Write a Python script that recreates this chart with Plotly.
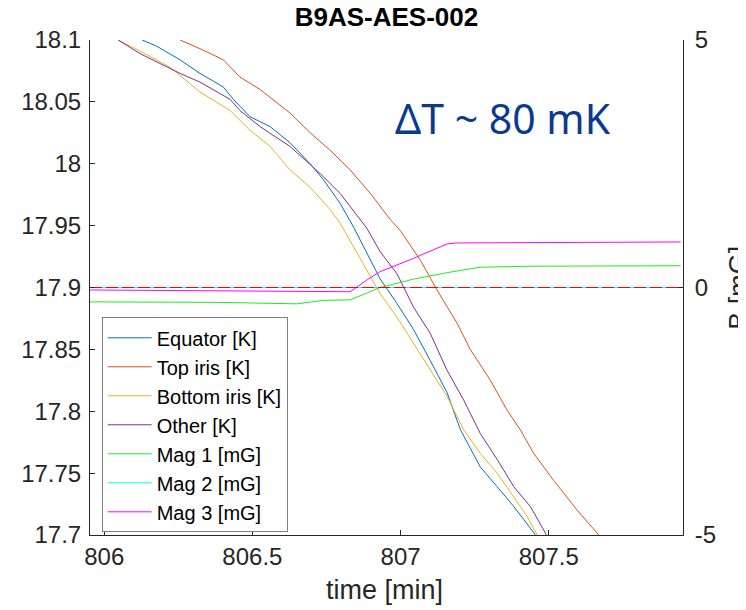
import plotly.graph_objects as go

# ---------------- data ----------------
eq_t = [806.128, 806.177, 806.256, 806.323, 806.402, 806.436, 806.492, 806.560, 806.627, 806.695,
        806.740, 806.796, 806.841, 806.931, 806.988, 807.044, 807.100, 807.157, 807.202, 807.269,
        807.326, 807.382, 807.427, 807.455]
eq_T = [18.100, 18.095, 18.084, 18.073, 18.062, 18.052, 18.038, 18.030, 18.017, 18.000,
        17.987, 17.968, 17.949, 17.907, 17.887, 17.866, 17.841, 17.815, 17.785, 17.755,
        17.739, 17.723, 17.709, 17.700]

top_t = [806.256, 806.323, 806.402, 806.458, 806.526, 806.627, 806.695, 806.762, 806.830, 806.898,
         806.965, 806.999, 807.067, 807.123, 807.191, 807.235, 807.303, 807.359, 807.404, 807.449,
         807.517, 807.596, 807.669]
top_T = [18.100, 18.093, 18.084, 18.070, 18.060, 18.041, 18.025, 18.011, 17.995, 17.976,
         17.955, 17.946, 17.922, 17.898, 17.871, 17.850, 17.825, 17.801, 17.785, 17.766,
         17.744, 17.720, 17.700]

bot_t = [806.047, 806.121, 806.222, 806.323, 806.425, 806.492, 806.560, 806.627, 806.695, 806.762,
         806.796, 806.931, 806.988, 807.044, 807.100, 807.157, 807.213, 807.269, 807.326, 807.382,
         807.427, 807.461]
bot_T = [18.100, 18.091, 18.078, 18.058, 18.043, 18.027, 18.014, 17.995, 17.981, 17.963,
         17.952, 17.895, 17.876, 17.855, 17.833, 17.812, 17.785, 17.766, 17.750, 17.731,
         17.715, 17.700]

oth_t = [806.047, 806.121, 806.188, 806.256, 806.323, 806.425, 806.458, 806.526, 806.627, 806.729,
         806.796, 806.886, 806.931, 806.988, 807.044, 807.100, 807.157, 807.213, 807.269, 807.326,
         807.382, 807.438, 807.483, 807.492]
oth_T = [18.100, 18.089, 18.081, 18.073, 18.066, 18.052, 18.043, 18.030, 18.014, 17.992,
         17.976, 17.948, 17.929, 17.911, 17.884, 17.863, 17.833, 17.809, 17.782, 17.761,
         17.739, 17.723, 17.704, 17.700]

mag1_t = [805.952, 806.380, 806.650, 806.740, 806.830, 806.909, 806.931, 806.965, 807.044, 807.157,
          807.269, 807.438, 807.945]
mag1_B = [-0.29, -0.30, -0.33, -0.26, -0.25, -0.05, 0.00, 0.05, 0.17, 0.30,
          0.41, 0.43, 0.44]

mag2_t = [805.952, 807.953]
mag2_B = [0.0, 0.0]

mag3_t = [805.952, 806.515, 806.740, 806.830, 806.886, 806.931, 807.044, 807.157, 807.191, 807.495,
          807.945]
mag3_B = [-0.05, -0.065, -0.085, -0.085, 0.15, 0.32, 0.59, 0.88, 0.90, 0.91,
          0.92]

zero_t = [805.952, 807.953]
zero_B = [0.0, 0.0]

x_ticks = [806, 806.5, 807, 807.5]
x_ticklabels = ["806", "806.5", "807", "807.5"]
y_ticks = [17.7, 17.75, 17.8, 17.85, 17.9, 17.95, 18.0, 18.05, 18.1]
y_ticklabels = ["17.7", "17.75", "17.8", "17.85", "17.9", "17.95", "18", "18.05", "18.1"]
b_ticks = [-5, 0, 5]
b_ticklabels = ["-5", "0", "5"]

x_range = [805.952, 807.953]
y_range = [17.7, 18.1]
b_range = [-5, 5]

# ---------------- figure ----------------
FONT = "Liberation Sans, Arial, Helvetica, sans-serif"
AX = "#262626"
# the page body has an 8 px margin, so the figure is 8 px smaller than the window
W, H = 738, 602

fig = go.Figure()

temp = [("Equator [K]", eq_t, eq_T, "#0072BD"),
        ("Top iris [K]", top_t, top_T, "#D95319"),
        ("Bottom iris [K]", bot_t, bot_T, "#EDB120"),
        ("Other [K]", oth_t, oth_T, "#7E2F8E")]
for name, t, v, c in temp:
    fig.add_trace(go.Scatter(x=t, y=v, name=name, mode="lines",
                             line=dict(color=c, width=1), yaxis="y"))

mags = [("Mag 1 [mG]", mag1_t, mag1_B, "#1EEB1E"),
        ("Mag 2 [mG]", mag2_t, mag2_B, "#00FFFF"),
        ("Mag 3 [mG]", mag3_t, mag3_B, "#FF00FF")]
for name, t, v, c in mags:
    fig.add_trace(go.Scatter(x=t, y=v, name=name, mode="lines",
                             line=dict(color=c, width=1), yaxis="y2"))

fig.add_trace(go.Scatter(x=zero_t, y=zero_B, mode="lines", showlegend=False,
                         line=dict(color="#FF0000", width=1, dash="12px,4px"), yaxis="y2"))

fig.update_layout(
    width=W, height=H,
    margin=dict(l=82, r=63, t=32, b=75, autoexpand=False),
    paper_bgcolor="white", plot_bgcolor="white",
    font=dict(family=FONT, color=AX),
    showlegend=True,
    title=dict(text="<b>B9AS-AES-002</b>", x=0.5, xref="paper", xanchor="center",
               y=1.0, yref="container", yanchor="top", pad=dict(t=0, b=0),
               font=dict(family=FONT, size=26, color="#000000")),
    xaxis=dict(range=x_range, tickvals=x_ticks, ticktext=x_ticklabels,
               ticks="inside", ticklen=5, tickcolor=AX, showline=True, linecolor=AX,
               linewidth=1, showgrid=False, zeroline=False, mirror=False, automargin=False,
               tickfont=dict(family=FONT, size=24, color=AX)),
    yaxis=dict(range=y_range, tickvals=y_ticks, ticktext=y_ticklabels,
               ticks="inside", ticklen=5, tickcolor=AX, showline=True, linecolor=AX,
               linewidth=1, showgrid=False, zeroline=False, automargin=False,
               ticklabelstandoff=3,
               tickfont=dict(family=FONT, size=24, color=AX)),
    yaxis2=dict(range=b_range, tickvals=b_ticks, ticktext=b_ticklabels, overlaying="y",
                side="right", ticks="inside", ticklen=5, tickcolor=AX, showline=True,
                linecolor=AX, linewidth=1, showgrid=False, zeroline=False, automargin=False,
                ticklabelstandoff=6,
                tickfont=dict(family=FONT, size=24, color=AX)),
    legend=dict(x=0.0197, y=0.4398, xanchor="left", yanchor="top",
                bgcolor="white", bordercolor="#7F7F7F", borderwidth=1,
                font=dict(family=FONT, size=20, color="#000000"),
                itemwidth=44, tracegroupgap=0),
    annotations=[
        dict(text="time [min]", x=0.497, y=-0.111, xref="paper", yref="paper",
             xanchor="center", yanchor="middle", showarrow=False,
             font=dict(family=FONT, size=27, color=AX)),
        dict(text="B [mG]", x=1.093, y=0.5, xref="paper", yref="paper",
             xanchor="center", yanchor="middle", showarrow=False, textangle=-90,
             font=dict(family=FONT, size=27, color=AX)),
        dict(text="ΔT ~ 80 mK", x=0.6965, y=0.842, xref="paper", yref="paper",
             xanchor="center", yanchor="middle", showarrow=False,
             font=dict(family="Noto Sans, Open Sans, sans-serif", size=41, color="#0A3A8F")),
    ],
)

fig.write_html("out.html")
